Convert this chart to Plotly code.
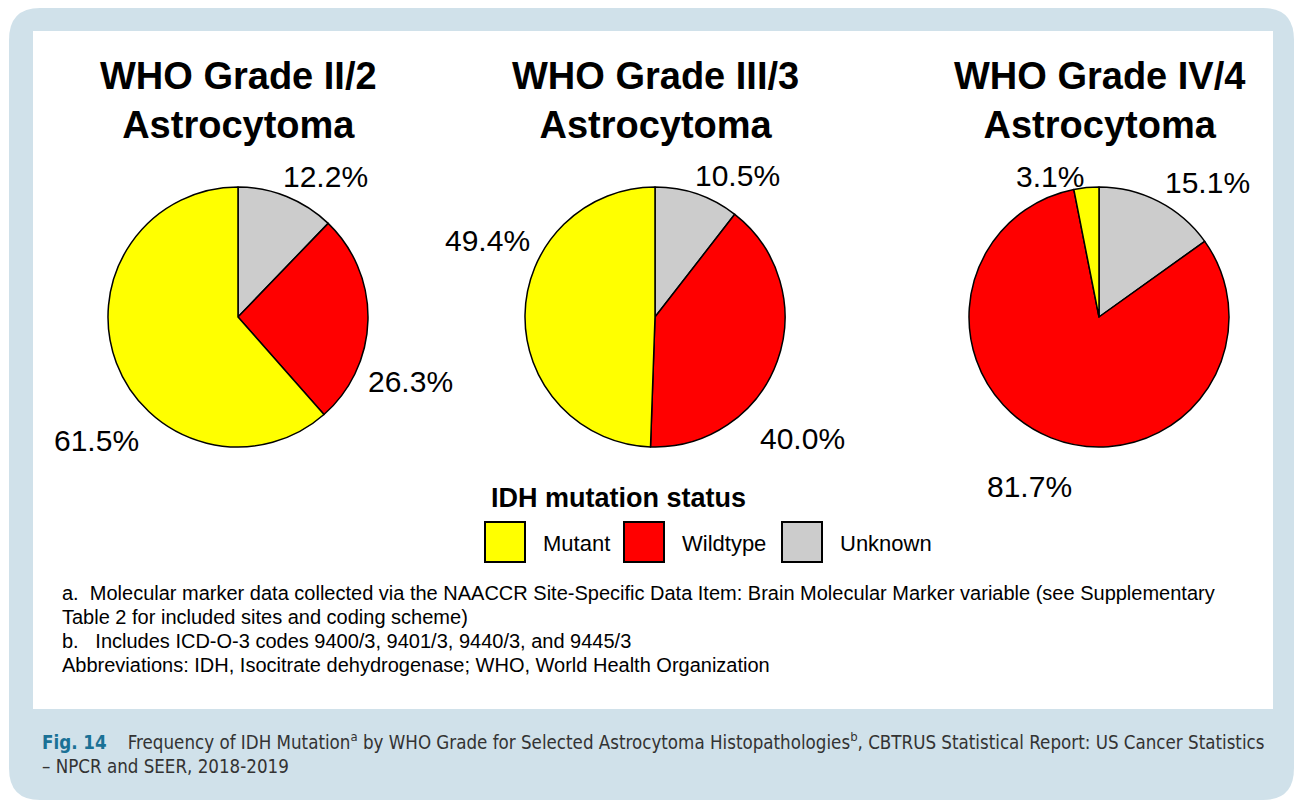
import plotly.graph_objects as go

# data
grades = ["WHO Grade II/2<br>Astrocytoma", "WHO Grade III/3<br>Astrocytoma", "WHO Grade IV/4<br>Astrocytoma"]
statuses = ["Unknown", "Wildtype", "Mutant"]
grade2 = [12.2, 26.3, 61.5]
grade3 = [10.5, 40.0, 49.4]
grade4 = [15.1, 81.7, 3.1]
legend_order = ["Mutant", "Wildtype", "Unknown"]
footnotes = [
    "a.  Molecular marker data collected via the NAACCR Site-Specific Data Item: Brain Molecular Marker variable (see Supplementary",
    "Table 2 for included sites and coding scheme)",
    "b.   Includes ICD-O-3 codes 9400/3, 9401/3, 9440/3, and 9445/3",
    "Abbreviations: IDH, Isocitrate dehydrogenase; WHO, World Health Organization",
]
caption = ("<b style='color:#1a7196'>Fig. 14</b>    Frequency of IDH Mutation<sup>a</sup> by WHO Grade for Selected "
           "Astrocytoma Histopathologies<sup>b</sup>, CBTRUS Statistical Report: US Cancer Statistics<br>"
           "– NPCR and SEER, 2018-2019")

colors = {"Mutant": "#ffff00", "Wildtype": "#ff0000", "Unknown": "#cccccc"}

W, H = 1297, 804
FONT = "Liberation Sans, Arial, sans-serif"
NARROW = "DejaVu Sans Condensed, Liberation Sans Narrow, Arial Narrow, sans-serif"

# layout positions (px)
centers = [238, 655, 1099]
cy, r = 317, 130
label_pos = [
    [(325, 176), (410, 381), (96, 440)],
    [(737, 175), (802, 438), (487, 240)],
    [(1207, 182), (1029, 486), (1050, 176)],
]

fig = go.Figure()
series = [grade2, grade3, grade4]
for i, vals in enumerate(series):
    cx = centers[i]
    fig.add_trace(go.Pie(
        labels=statuses, values=vals, sort=False, direction="clockwise", rotation=0,
        marker=dict(colors=[colors[s] for s in statuses], line=dict(color="black", width=1.5)),
        textinfo="none", hoverinfo="label+value", showlegend=False,
        domain=dict(x=[(cx - r) / W, (cx + r) / W], y=[1 - (cy + r) / H, 1 - (cy - r) / H]),
    ))
    fig.add_annotation(x=cx, y=100, text="<b>" + grades[i] + "</b>", showarrow=False,
                       font=dict(family=FONT, size=38, color="black"), xref="x", yref="y")
    for v, (lx, ly) in zip(vals, label_pos[i]):
        fig.add_annotation(x=lx, y=ly, text=f"{v:.1f}%", showarrow=False,
                           font=dict(family=FONT, size=30, color="black"), xref="x", yref="y")

shapes = [
    # outer rounded frame
    dict(type="path", xref="x", yref="y", fillcolor="#d0e1ea", line=dict(width=0), layer="below",
         path="M 40 8 L 1263 8 Q 1294 8 1294 40 L 1294 768 Q 1294 800 1263 800 L 40 800 "
              "Q 9 800 9 768 L 9 40 Q 9 8 40 8 Z"),
    dict(type="rect", xref="x", yref="y", x0=33, x1=1273, y0=31, y1=709,
         fillcolor="white", line=dict(width=0), layer="below"),
]

# legend
fig.add_annotation(x=618, y=498, text="<b>IDH mutation status</b>", showarrow=False,
                   font=dict(family=FONT, size=27, color="black"), xref="x", yref="y")
sw_x = [485, 624, 782]
for s, x0 in zip(legend_order, sw_x):
    shapes.append(dict(type="rect", xref="x", yref="y", x0=x0, x1=x0 + 40, y0=522, y1=562,
                       fillcolor=colors[s], line=dict(color="black", width=2)))
    fig.add_annotation(x=x0 + 56, y=543, text=s, showarrow=False, xanchor="left",
                       font=dict(family=FONT, size=22, color="black"), xref="x", yref="y")

for k, t in enumerate(footnotes):
    fig.add_annotation(x=60, y=593 + 24 * k, text=t, showarrow=False, xanchor="left",
                       font=dict(family=FONT, size=20, color="black"), xref="x", yref="y")

fig.add_annotation(x=40, y=753, text=caption, showarrow=False, xanchor="left", align="left",
                   font=dict(family=NARROW, size=18.6, color="#333333"), xref="x", yref="y")

fig.update_layout(
    width=W, height=H, margin=dict(l=0, r=0, t=0, b=0),
    paper_bgcolor="white", plot_bgcolor="rgba(0,0,0,0)",
    xaxis=dict(range=[0, W], visible=False, domain=[0, 1], fixedrange=True),
    yaxis=dict(range=[H, 0], visible=False, domain=[0, 1], fixedrange=True),
    shapes=shapes,
)
fig.write_html("out.html", config={"displayModeBar": False},
               post_script="document.body.style.margin='0';")
